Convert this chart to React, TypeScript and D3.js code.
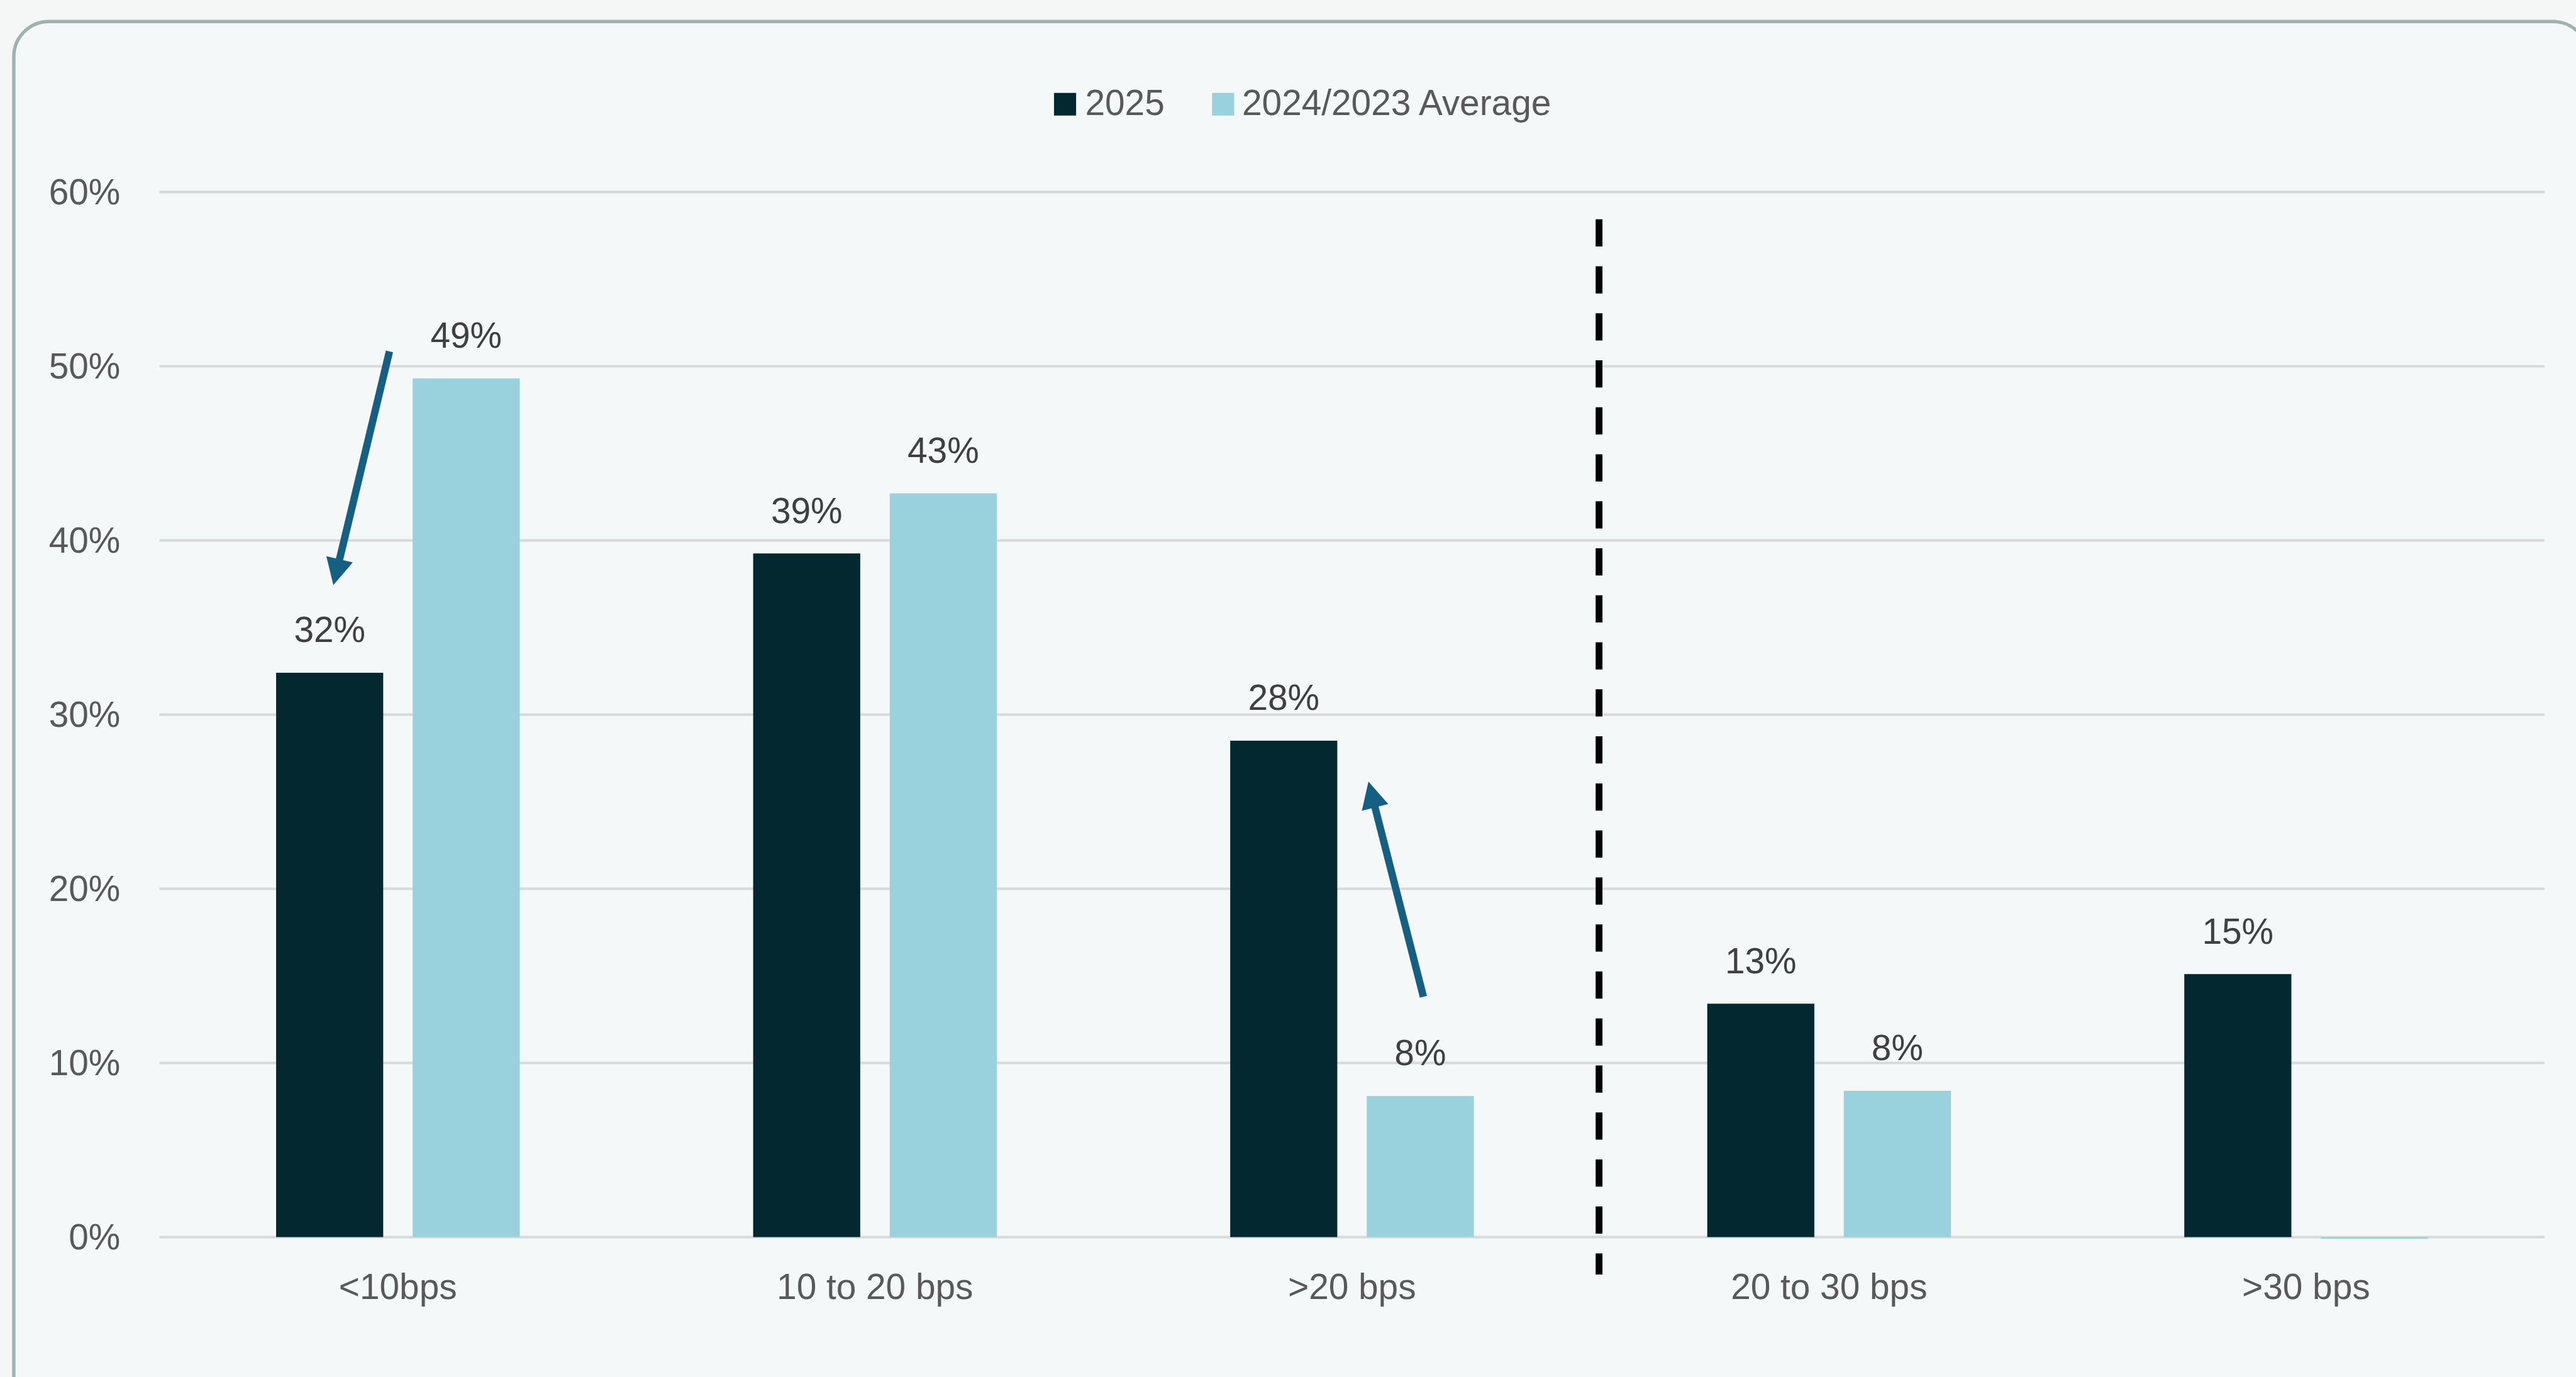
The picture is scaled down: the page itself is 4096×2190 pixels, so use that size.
import React from "react";
import * as d3 from "d3";

const categories = ["<10bps", "10 to 20 bps", ">20 bps", "20 to 30 bps", ">30 bps"];
const series2025 = [0.324, 0.3925, 0.285, 0.134, 0.151];
const seriesAvg = [0.493, 0.427, 0.081, 0.084, -0.001];
const seriesNames = ["2025", "2024/2023 Average"];
const seriesColors = ["#032830", "#99d1dc"];
const yTicks = [0, 0.1, 0.2, 0.3, 0.4, 0.5, 0.6];
// annotation arrows: category, offsets from band centre (px), values
const arrows = [
  { cat: "<10bps", tailDx: -15, tailV: 0.5085, tipDx: -114, tipV: 0.3743 },
  { cat: ">20 bps", tailDx: 126, tailV: 0.138, tipDx: 29, tipV: 0.2615 },
];
const dividerAfter = ">20 bps";

const W = 4546;
const H = 2431;
const FONT = "'Liberation Sans', Arial, Helvetica, sans-serif";

export default function App() {
  const x = d3.scaleBand<string>().domain(categories).range([281, 4491]).padding(0);
  const y = d3.scaleLinear().domain([0, 0.6]).range([2184, 339]);
  const fmt = d3.format(".0%");
  const barW = 189;
  const innerGap = 26;
  const cx = (c: string) => (x(c) as number) + x.bandwidth() / 2;

  const bars: any[] = [];
  categories.forEach((c, i) => {
    [series2025[i], seriesAvg[i]].forEach((v, s) => {
      const left = s === 0 ? cx(c) - innerGap - barW : cx(c) + innerGap;
      const y0 = y(0);
      const yv = y(v);
      bars.push({
        key: `${c}-${s}`,
        x: left,
        y: Math.min(y0, yv),
        h: Math.max(Math.abs(y0 - yv), 3),
        color: seriesColors[s],
        label: Math.abs(v) >= 0.005 ? fmt(v) : null,
        lx: left + barW / 2,
        ly: yv - 54,
      });
    });
  });

  const arrowShapes = arrows.map((a, i) => {
    const tx = cx(a.cat) + a.tailDx;
    const ty = y(a.tailV);
    const px = cx(a.cat) + a.tipDx;
    const py = y(a.tipV);
    const dx = px - tx;
    const dy = py - ty;
    const len = Math.sqrt(dx * dx + dy * dy);
    const ux = dx / len;
    const uy = dy / len;
    const nx = -uy;
    const ny = ux;
    const hl = 47;
    const hw = 24;
    const bx = px - hl * ux;
    const by = py - hl * uy;
    return (
      <g key={i}>
        <line x1={tx} y1={ty} x2={bx + ux * 4} y2={by + uy * 4} stroke="#156082" strokeWidth={13} />
        <polygon
          points={`${px},${py} ${bx + hw * nx},${by + hw * ny} ${bx - hw * nx},${by - hw * ny}`}
          fill="#156082"
        />
      </g>
    );
  });

  const divX = (x(dividerAfter) as number) + x.bandwidth() + 15;

  return (
    <svg
      width={4096}
      height={2190}
      viewBox={`0 0 ${W} ${H}`}
      style={{ position: "absolute", left: 0, top: 0, display: "block" }}
      fontFamily={FONT}
    >
      <rect x={0} y={0} width={W} height={H} fill="#f4f7f6" />
      <rect x={24} y={38} width={4544} height={2460} rx={62} ry={62} fill="#f5f8f8" stroke="#a0b2b0" strokeWidth={6} />

      {/* legend */}
      <g>
        <rect x={1860} y={164} width={39} height={40} fill={seriesColors[0]} />
        <text x={1915} y={203} fontSize={63} fill="#595959">{seriesNames[0]}</text>
        <rect x={2139} y={164} width={39} height={40} fill={seriesColors[1]} />
        <text x={2192} y={203} fontSize={63} fill="#595959">{seriesNames[1]}</text>
      </g>

      {/* gridlines and y labels */}
      {yTicks.map((t) => (
        <g key={t}>
          <line x1={281} x2={4491} y1={y(t)} y2={y(t)} stroke="#d9d9d9" strokeWidth={4.5} />
          <text x={212} y={y(t) + 22} fontSize={63} fill="#595959" textAnchor="end">
            {fmt(t)}
          </text>
        </g>
      ))}

      {/* bars */}
      {bars.map((b) => (
        <rect key={b.key} x={b.x} y={b.y} width={barW} height={b.h} fill={b.color} />
      ))}
      {bars.map((b) =>
        b.label ? (
          <text key={b.key + "l"} x={b.lx} y={b.ly} fontSize={63} fill="#404040" textAnchor="middle">
            {b.label}
          </text>
        ) : null
      )}

      {/* x labels */}
      {categories.map((c) => (
        <text key={c} x={cx(c)} y={2293} fontSize={63} fill="#595959" textAnchor="middle">
          {c}
        </text>
      ))}

      {/* divider */}
      <line x1={divX} x2={divX} y1={387} y2={2250} stroke="#000" strokeWidth={12} strokeDasharray="48 35" />

      {arrowShapes}
    </svg>
  );
}
